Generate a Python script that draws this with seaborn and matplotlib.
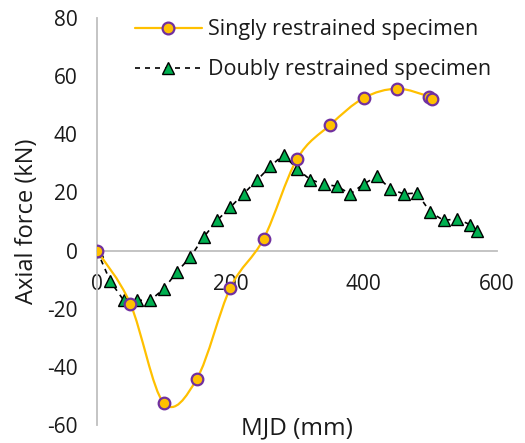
import numpy as np
import matplotlib
matplotlib.use('Agg')
import matplotlib.pyplot as plt
from matplotlib.path import Path
from matplotlib.patches import PathPatch
from matplotlib.lines import Line2D
import seaborn as sns

# data
single_x = [0, 50, 100, 150, 200, 250, 300, 350, 400, 450, 498, 503]
single_y = [0, -18.3, -52.4, -44, -12.8, 4.1, 31.5, 43.3, 52.5, 55.7, 53, 52.2]

double_x = [0, 20, 40, 60, 80, 100, 120, 140, 160, 180, 200, 220, 240, 260, 280,
            300, 320, 340, 360, 380, 400, 420, 440, 460, 480, 500, 520, 540, 560, 570]
double_y = [0, -10.6, -17.1, -17.1, -17.1, -13.2, -7.3, -2.2, 4.6, 10.4, 14.9, 19.6,
            24.2, 29, 33, 28.1, 24.4, 22.9, 22.1, 19.5, 22.9, 25.6, 21.2, 19.5, 19.8,
            13.2, 10.4, 10.9, 8.9, 6.9]

x_ticks = [0, 200, 400, 600]
y_ticks = [-60, -40, -20, 0, 20, 40, 60, 80]

ORANGE = '#FFC000'
PURPLE = '#7030A0'
GREEN = '#00B050'
GREY = '#BFBFBF'
TXT = '#1a1a1a'

sns.set_theme(style="white")
plt.rcParams['font.family'] = ['Open Sans', 'DejaVu Sans']
plt.rcParams['axes.unicode_minus'] = False


def smooth_path(xs, ys):
    # Excel style smoothed line: cubic bezier with catmull-rom control points
    pts = np.column_stack([xs, ys]).astype(float)
    n = len(pts)
    verts = [pts[0]]
    codes = [Path.MOVETO]
    for i in range(n - 1):
        p0 = pts[i - 1] if i > 0 else pts[i]
        p1 = pts[i]
        p2 = pts[i + 1]
        p3 = pts[i + 2] if i + 2 < n else pts[i + 1]
        c1 = p1 + (p2 - p0) / 6
        c2 = p2 - (p3 - p1) / 6
        verts += [c1, c2, p2]
        codes += [Path.CURVE4] * 3
    return Path(verts, codes)


fig = plt.figure(figsize=(5.25, 4.43), dpi=100)
ax = fig.add_axes([0.1848, 0.0406, 0.7619, 0.9187])

sns.lineplot(x=double_x, y=double_y, ax=ax, sort=False, color='black', lw=1.2,
             dashes=False, linestyle=(0, (3, 3)), marker='^', markersize=8.5,
             markerfacecolor=GREEN, markeredgecolor='black', markeredgewidth=1.0,
             zorder=3)

ax.add_patch(PathPatch(smooth_path(single_x, single_y), facecolor='none',
                       edgecolor=ORANGE, lw=1.6, zorder=4))
sns.scatterplot(x=single_x, y=single_y, ax=ax, s=70, color=ORANGE,
                edgecolor=PURPLE, linewidth=1.6, zorder=5)

ax.set_xlim(0, 600)
ax.set_ylim(-60, 80)
ax.set_xticks(x_ticks)
ax.set_yticks(y_ticks)

for s in ['top', 'right']:
    ax.spines[s].set_visible(False)
ax.spines['bottom'].set_position(('data', 0))
for s in ['left', 'bottom']:
    ax.spines[s].set_color(GREY)
    ax.spines[s].set_linewidth(1.3)

ax.tick_params(axis='both', direction='in', length=5, width=1.3, color=GREY,
               labelsize=15, labelcolor=TXT)
ax.tick_params(axis='x', pad=17)
ax.tick_params(axis='y', pad=14)

ax.set_ylabel('Axial force (kN)', fontsize=17, color=TXT)
ax.yaxis.set_label_coords(-0.145, 0.5)
ax.set_xlabel('MJD (mm)', fontsize=17.5, color=TXT)
ax.xaxis.set_label_coords(0.5, 0.02)

handles = [
    Line2D([], [], color=ORANGE, lw=1.6, marker='o', markersize=8.5,
           markerfacecolor=ORANGE, markeredgecolor=PURPLE, markeredgewidth=1.6),
    Line2D([], [], color='black', lw=1.2, linestyle=(0, (3, 3)), marker='^',
           markersize=8.5, markerfacecolor=GREEN, markeredgecolor='black',
           markeredgewidth=1.0),
]
fig.legend(handles, ['Singly restrained specimen', 'Doubly restrained specimen'],
           loc='upper left', bbox_to_anchor=(0.257, 0.957), frameon=False,
           fontsize=15.5, handlelength=3.1, handletextpad=0.3, borderpad=0,
           borderaxespad=0, labelspacing=0.9, labelcolor=TXT)

fig.savefig('out.png', dpi=100)
